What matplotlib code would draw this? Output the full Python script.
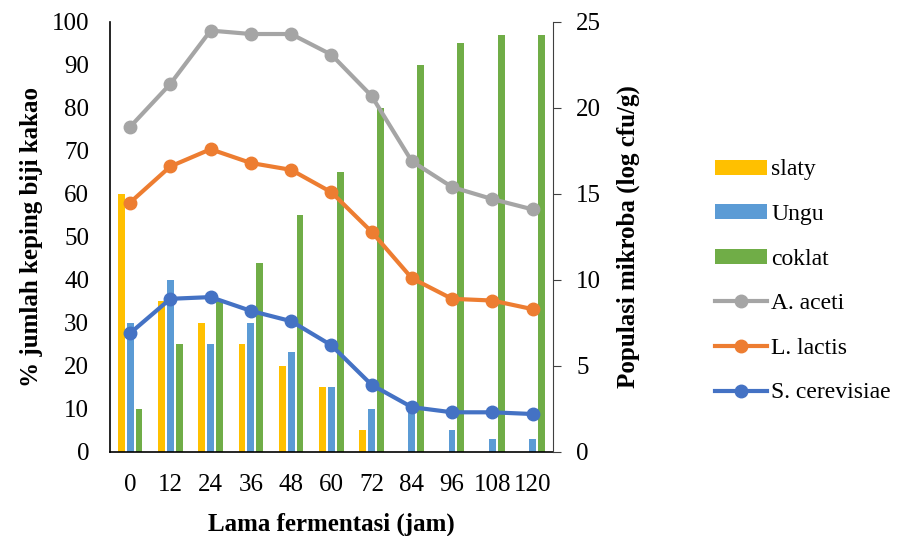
import numpy as np
import matplotlib
matplotlib.use("Agg")
import matplotlib.pyplot as plt

plt.rcParams['font.family'] = ['Liberation Serif', 'DejaVu Serif']

jam = ['0', '12', '24', '36', '48', '60', '72', '84', '96', '108', '120']
slaty = [60, 35, 30, 25, 20, 15, 5, 0, 0, 0, 0]
ungu = [30, 40, 25, 30, 23.3, 15, 10, 10, 5, 3, 3]
coklat = [10, 25, 35, 44, 55, 65, 80, 90, 95, 97, 97]
aceti = [18.9, 21.4, 24.5, 24.3, 24.3, 23.1, 20.7, 16.9, 15.4, 14.7, 14.1]
lactis = [14.5, 16.6, 17.6, 16.8, 16.4, 15.1, 12.8, 10.1, 8.9, 8.8, 8.3]
cerevisiae = [6.9, 8.9, 9.0, 8.2, 7.6, 6.2, 3.9, 2.6, 2.3, 2.3, 2.2]

fig = plt.figure(figsize=(9.09, 5.36), dpi=100)
ax = fig.add_axes([0.121, 0.157, 0.487, 0.802])
ax2 = ax.twinx()

x = np.arange(len(jam))
w = 0.17
b1 = ax.bar(x - 0.22, slaty, w, color='#FFC000', label='slaty')
b2 = ax.bar(x, ungu, w, color='#5B9BD5', label='Ungu')
b3 = ax.bar(x + 0.22, coklat, w, color='#70AD47', label='coklat')

l1, = ax2.plot(x, aceti, '-o', color='#A5A5A5', lw=3, ms=9, label='A. aceti')
l2, = ax2.plot(x, lactis, '-o', color='#ED7D31', lw=3, ms=9, label='L. lactis')
l3, = ax2.plot(x, cerevisiae, '-o', color='#4472C4', lw=3, ms=9, label='S. cerevisiae')

ax.set_xlim(-0.5, len(jam) - 0.5)
ax.set_ylim(0, 100)
ax.set_yticks(range(0, 101, 10))
ax2.set_ylim(0, 25)
ax2.set_yticks(range(0, 26, 5))
ax.set_xticks(x)
ax.set_xticklabels(jam)

for a in (ax, ax2):
    a.spines['top'].set_visible(False)
    a.tick_params(labelsize=18)
ax.spines['right'].set_visible(False)
ax.spines['left'].set_linewidth(1.2)
ax.spines['bottom'].set_linewidth(1.2)
ax2.spines['left'].set_visible(False)
ax2.spines['bottom'].set_visible(False)
ax2.spines['right'].set_color('#404040')
ax.tick_params(axis='y', length=0, pad=15)
ax.tick_params(axis='x', length=0, pad=16)
ax2.tick_params(axis='y', length=6, color='#404040', pad=11)

ax.set_xlabel('Lama fermentasi (jam)', fontsize=18, fontweight='bold', labelpad=12)
ax.set_ylabel('% jumlah keping biji kakao', fontsize=18, fontweight='bold', labelpad=6)
ax2.set_ylabel('Populasi mikroba (log cfu/g)', fontsize=18, fontweight='bold', labelpad=11)

fig.legend([b1, b2, b3, l1, l2, l3],
           ['slaty', 'Ungu', 'coklat', 'A. aceti', 'L. lactis', 'S. cerevisiae'],
           loc='center left', bbox_to_anchor=(0.776, 0.475), frameon=False,
           fontsize=17, labelspacing=1.0, handlelength=2.2, handletextpad=0.2,
           handleheight=0.6, borderaxespad=0)

fig.savefig('out.png', dpi=100)
